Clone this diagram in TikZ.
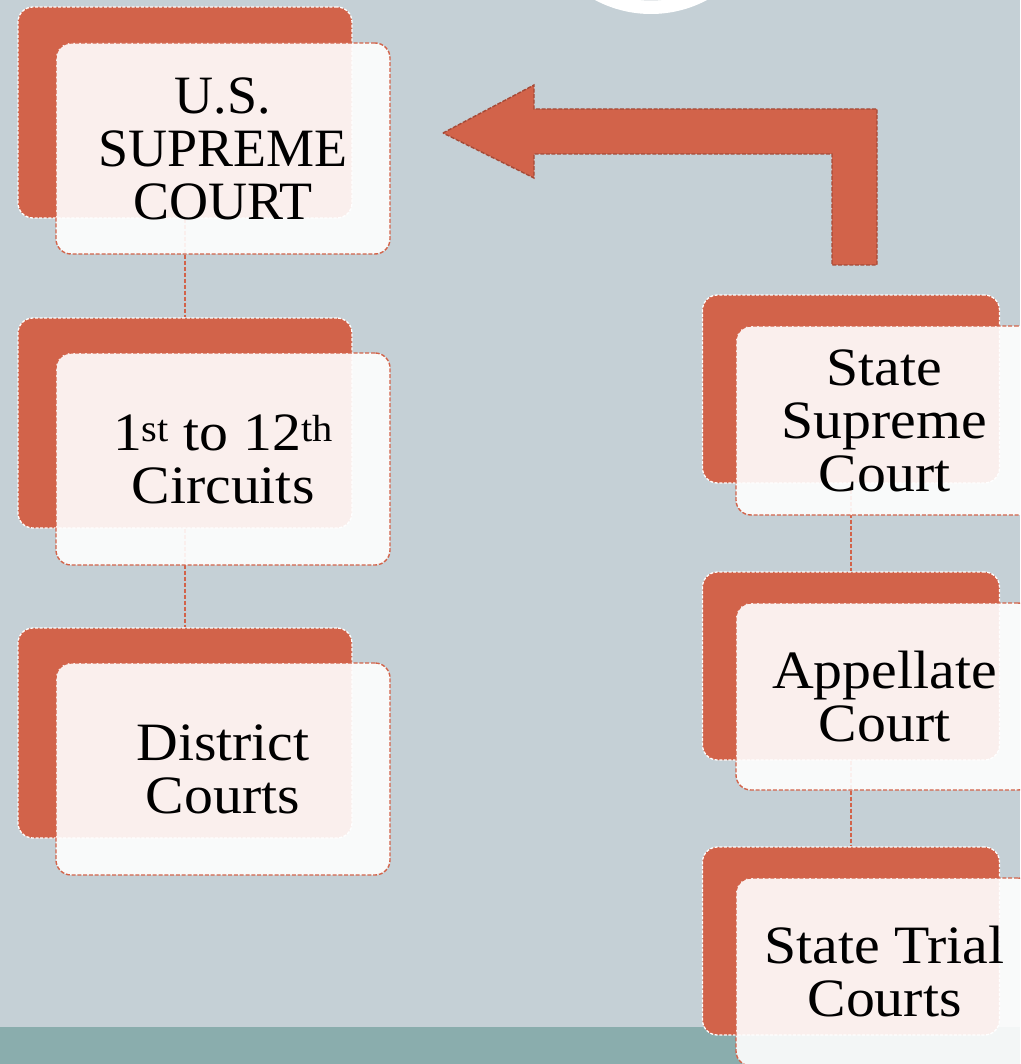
\documentclass[tikz,border=0pt]{standalone}
\usepackage{fontspec}
\setmainfont{Liberation Serif}
\newfontfamily\geo[FakeStretch=1.07]{Liberation Serif}
\definecolor{bgc}{HTML}{C5D0D6}
\definecolor{orc}{HTML}{D2634A}
\definecolor{darkor}{HTML}{A54A37}
\definecolor{stripc}{HTML}{8AADAD}
\definecolor{ringc}{HTML}{BFC8CD}
\begin{document}
\begin{tikzpicture}[x=1pt,y=-1pt,
  obox/.style={draw=white, line width=1.3pt, dash pattern=on 3pt off 1.6pt, fill=orc,
    rounded corners=15pt, inner sep=0pt},
  wbox/.style={draw=orc, line width=1.4pt, dash pattern=on 4pt off 1.8pt, fill=white,
    fill opacity=0.9, text opacity=1, rounded corners=15pt, inner sep=0pt, align=center,
    font=\fontsize{54}{53}\selectfont},
  conn/.style={draw=orc, line width=1.6pt, dash pattern=on 4pt off 2pt},
  bent/.style={fill=orc, draw=darkor, line width=1.4pt, dash pattern=on 4pt off 1.6pt}]
\useasboundingbox (0,0) rectangle (1020,1064);
\clip (0,0) rectangle (1020,1064);
\fill[bgc] (0,0) rectangle (1020,1064);
\fill[stripc] (0,1027) rectangle (1020,1064);
% circle at top
\fill[white] (651,-105) circle (119);
\fill[ringc] (651,-105) circle (105.5);
% bent arrow
\path[bent] (443,133) -- (534,85) -- (534,109) -- (877,109) -- (877,265) -- (832,265)
  -- (832,154) -- (534,154) -- (534,178) -- cycle;
% orange back boxes
\node[obox, minimum width=334pt, minimum height=211pt] (o1) at (185,112.5) {};
\node[obox, minimum width=334pt, minimum height=210pt] (o2) at (185,423) {};
\node[obox, minimum width=334pt, minimum height=210pt] (o3) at (185,733) {};
\node[obox, minimum width=297pt, minimum height=188pt] (r1) at (851,389) {};
\node[obox, minimum width=297pt, minimum height=188pt] (r2) at (851,666) {};
\node[obox, minimum width=297pt, minimum height=188pt] (r3) at (851,941) {};
% connectors
\draw[conn] (o1.south) -- (o2.north);
\draw[conn] (o2.south) -- (o3.north);
\draw[conn] (r1.south) -- (r2.north);
\draw[conn] (r2.south) -- (r3.north);
% front boxes with text
\node[wbox, minimum width=334pt, minimum height=211pt] (w1) at (223,148.5)
  {U.S.\\SUPREME\\COURT};
\node[wbox, minimum width=334pt, minimum height=212pt] (w2) at (223,459)
  {\geo 1\textsuperscript{st} to 12\textsuperscript{th}\\\geo Circuits};
\node[wbox, minimum width=334pt, minimum height=212pt] (w3) at (223,769)
  {\geo District\\\geo Courts};
\node[wbox, minimum width=297pt, minimum height=189pt] (v1) at (884.5,420.5)
  {\geo State\\\geo Supreme\\\geo Court};
\node[wbox, minimum width=297pt, minimum height=187pt] (v2) at (884.5,696.5)
  {\geo Appellate\\\geo Court};
\node[wbox, minimum width=297pt, minimum height=188pt] (v3) at (884.5,972)
  {\geo State Trial\\\geo Courts};
\end{tikzpicture}
\end{document}
